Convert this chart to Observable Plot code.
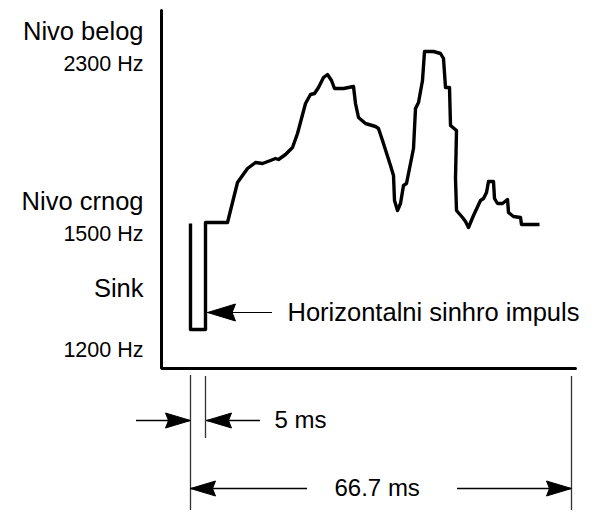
<!DOCTYPE html>
<html>
<head>
<meta charset="utf-8">
<script src="https://cdn.jsdelivr.net/npm/d3@7"></script>
<script src="https://cdn.jsdelivr.net/npm/@observablehq/plot@0.6"></script>
<style>
  html, body { margin: 0; padding: 0; background: #fff; }
</style>
</head>
<body>
<div id="chart"></div>
<script>
// Signal trace: time position (x) and signal level (y), schematic units
const sigT = [29,29,44,44,66,76,86,94,101,109,114,117,124,131,136,144,149,153,157,162,166,170,173,182,192,194,197,204,214,217,221,229,232,233,236,239,242,245,252,254,257,261,263,272,279,282,284,288,289,295,294,295,301,304,307,312,319,322,325,327,332,333,336,341,346,347,352,359,360,378];
const sigLevel = [145,39,39,146,146,186,200,206,205,208,210,209,214,221,235,265,274,275,281,291,294,288,280,280,282,265,251,245,242,240,228,203,193,168,158,165,183,185,220,260,266,288,317,317,315,310,281,281,243,238,190,158,151,147,141,153,168,170,176,187,187,170,165,165,169,156,152,151,144,144];

// Axes extents
const axisT = [0, 0, 414];
const axisLevel = [358, 0, 0];

// Level labels
const levelNames = ["Nivo belog", "Nivo crnog", "Sink"];
const levelNameY = [337, 167, 80];
const freqLabels = ["2300 Hz", "1500 Hz", "1200 Hz"];
const freqLabelY = [304, 134, 18];

// Sync pulse pointer
const syncLabel = "Horizontalni sinhro impuls";
const syncPointer = {x1: 111, x2: 46, y: 56, textX: 126};

// Dimension markers
const dimLineX = [29, 44, 410];
const dimLineTop = [-7, -8, -8];
const dimLineBottom = [-142, -70, -142];
const dimLabels = ["5 ms", "66.7 ms"];
const dimLabelX = [113, 173];
const dimLabelY = [-52, -120];
// arrows: shaft start, tip, row level
const dimArrowFrom = [-25, 99, 146, 296];
const dimArrowTip  = [29, 45, 29, 410];
const dimArrowY    = [-52, -52, -120, -120];

const signal = sigT.map((t, i) => ({t, v: sigLevel[i]}));
const axes = axisT.map((t, i) => ({t, v: axisLevel[i]}));
const names = levelNames.map((s, i) => ({s, v: levelNameY[i]}));
const freqs = freqLabels.map((s, i) => ({s, v: freqLabelY[i]}));
const dimLines = dimLineX.map((x, i) => ({x, y1: dimLineTop[i], y2: dimLineBottom[i]}));
const dimArrows = dimArrowFrom.map((x1, i) => ({x1, x2: dimArrowTip[i], y: dimArrowY[i]}));
const dimTexts = dimLabels.map((s, i) => ({s, x: dimLabelX[i], y: dimLabelY[i]}));

function headSymbol(dir, L, W) {
  return {
    draw(ctx) {
      ctx.moveTo(0, 0);
      ctx.lineTo(-dir * L, -W / 2);
      ctx.lineTo(-dir * L * 0.88, 0);
      ctx.lineTo(-dir * L, W / 2);
      ctx.closePath();
    }
  };
}
const headRight = headSymbol(1, 25, 15);
const headLeft = headSymbol(-1, 25, 15);
const bigLeft = headSymbol(-1, 28, 17);

const font = "'Liberation Sans', Arial, Helvetica, sans-serif";

const chart = Plot.plot({
  width: 603,
  height: 513,
  margin: 0,
  x: {domain: [-161, 442], range: [0, 603], axis: null},
  y: {domain: [-145, 368], range: [513, 0], axis: null},
  style: {fontFamily: font, background: "#fff", color: "#000"},
  marks: [
    // axes
    Plot.line(axes, {x: "t", y: "v", stroke: "#000", strokeWidth: 3, strokeLinejoin: "miter"}),
    // signal
    Plot.line(signal, {x: "t", y: "v", stroke: "#000", strokeWidth: 3.4, strokeLinejoin: "round", strokeLinecap: "butt"}),
    // level labels
    Plot.text(names, {x: -18, y: "v", text: "s", textAnchor: "end", fontSize: 25.5, fill: "#000"}),
    Plot.text(freqs, {x: -18, y: "v", text: "s", textAnchor: "end", fontSize: 21.5, fill: "#000"}),
    // sync pointer
    Plot.ruleY([syncPointer], {x1: "x1", x2: "x2", y: "y", stroke: "#000", strokeWidth: 1.2}),
    Plot.dot([syncPointer], {x: "x2", y: "y", symbol: bigLeft, fill: "#000", stroke: "#000", strokeWidth: 1}),
    Plot.text([syncPointer], {x: "textX", y: "y", text: () => syncLabel, textAnchor: "start", fontSize: 25.5, fill: "#000"}),
    // dimension lines
    Plot.ruleX(dimLines, {x: "x", y1: "y1", y2: "y2", stroke: "#333", strokeWidth: 1.3}),
    Plot.ruleY(dimArrows, {x1: "x1", x2: "x2", y: "y", stroke: "#000", strokeWidth: 1.3}),
    Plot.dot(dimArrows.filter(d => d.x2 > d.x1), {x: "x2", y: "y", symbol: headRight, fill: "#000", stroke: "#000", strokeWidth: 1}),
    Plot.dot(dimArrows.filter(d => d.x2 < d.x1), {x: "x2", y: "y", symbol: headLeft, fill: "#000", stroke: "#000", strokeWidth: 1}),
    Plot.text(dimTexts, {x: "x", y: "y", text: "s", textAnchor: "start", fontSize: 24, fill: "#000"})
  ]
});
document.getElementById("chart").append(chart);
</script>
</body>
</html>
